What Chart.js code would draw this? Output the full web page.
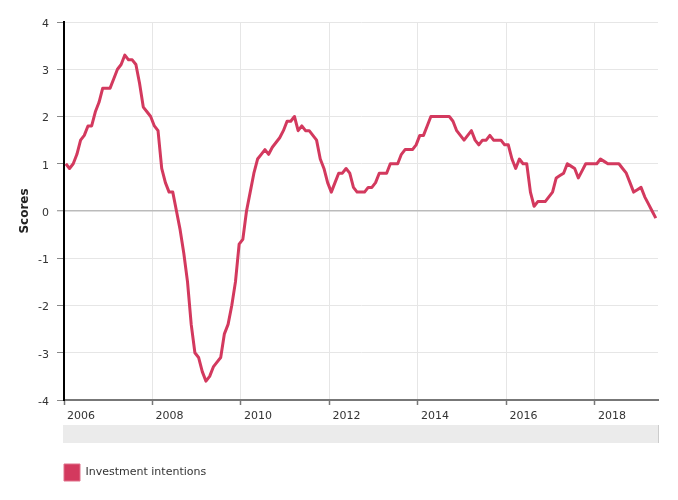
<!DOCTYPE html>
<html>
<head>
<meta charset="utf-8">
<script src="https://cdn.jsdelivr.net/npm/chart.js@4.4.1/dist/chart.umd.min.js"></script>
<style>
  html, body { margin: 0; padding: 0; background: #fff; }
  #wrap { width: 678px; height: 500px; }
</style>
</head>
<body>
<div id="wrap"><canvas id="chart" width="678" height="500"></canvas></div>
<script>
// Monthly scores, Jan 2006 .. May 2019
const startYear = 2006;
const seriesLabel = "Investment intentions";
const scores = [
  1.0, 0.9, 1.0, 1.2, 1.5, 1.6, 1.8, 1.8, 2.1, 2.3,
  2.6, 2.6, 2.6, 2.8, 3.0, 3.1, 3.3, 3.2, 3.2, 3.1,
  2.7, 2.2, 2.1, 2.0, 1.8, 1.7, 0.9, 0.6, 0.4, 0.4,
  0.0, -0.4, -0.9, -1.5, -2.4, -3.0, -3.1, -3.4, -3.6, -3.5,
  -3.3, -3.2, -3.1, -2.6, -2.4, -2.0, -1.5, -0.7, -0.6, 0.0,
  0.4, 0.8, 1.1, 1.2, 1.3, 1.2, 1.35, 1.45, 1.55, 1.7,
  1.9, 1.9, 2.0, 1.7, 1.8, 1.7, 1.7, 1.6, 1.5, 1.1,
  0.9, 0.6, 0.4, 0.6, 0.8, 0.8, 0.9, 0.8, 0.5, 0.4,
  0.4, 0.4, 0.5, 0.5, 0.6, 0.8, 0.8, 0.8, 1.0, 1.0,
  1.0, 1.2, 1.3, 1.3, 1.3, 1.4, 1.6, 1.6, 1.8, 2.0,
  2.0, 2.0, 2.0, 2.0, 2.0, 1.9, 1.7, 1.6, 1.5, 1.6,
  1.7, 1.5, 1.4, 1.5, 1.5, 1.6, 1.5, 1.5, 1.5, 1.4,
  1.4, 1.1, 0.9, 1.1, 1.0, 1.0, 0.4, 0.1, 0.2, 0.2,
  0.2, 0.3, 0.4, 0.7, 0.75, 0.8, 1.0, 0.95, 0.9, 0.7,
  0.85, 1.0, 1.0, 1.0, 1.0, 1.1, 1.05, 1.0, 1.0, 1.0,
  1.0, 0.9, 0.8, 0.6, 0.4, 0.45, 0.5, 0.3, 0.15, 0.0, -0.15
];
const yearTicks = [2006, 2008, 2010, 2012, 2014, 2016, 2018];
const scoreTicks = [-4, -3, -2, -1, 0, 1, 2, 3, 4];

const lineColor = "#d3395e";

// each month sits in the middle of its month on the year axis
const points = scores.map((v, i) => ({ x: startYear + (i + 0.5) / 12, y: v }));

Chart.defaults.font.family = "'DejaVu Sans', Verdana, sans-serif";
Chart.defaults.font.size = 11;
Chart.defaults.color = "#333";

// grey navigator strip under the axis, and legend placement
const extras = {
  id: "extras",
  afterLayout(chart) {
    const lg = chart.legend;
    const w = lg.width, h = lg.height;
    lg.left = chart.chartArea.left - 10;
    lg.right = lg.left + w;
    lg.top = 454;
    lg.bottom = lg.top + h;
  },
  beforeDraw(chart) {
    const { ctx, chartArea } = chart;
    ctx.save();
    ctx.fillStyle = "#ebebeb";
    ctx.fillRect(chartArea.left - 1, 425, chartArea.right - chartArea.left + 1, 18);
    ctx.fillStyle = "#cccccc";
    ctx.fillRect(chartArea.right, 425, 1, 18);
    ctx.restore();
  }
};

new Chart(document.getElementById("chart"), {
  type: "line",
  data: {
    datasets: [{
      label: seriesLabel,
      data: points,
      borderColor: lineColor,
      backgroundColor: lineColor,
      borderWidth: 3,
      pointRadius: 0,
      tension: 0,
      borderJoinStyle: "round",
      fill: false
    }]
  },
  options: {
    responsive: false,
    animation: false,
    layout: { padding: { top: 22, right: 20, bottom: 38, left: 0 } },
    scales: {
      x: {
        type: "linear",
        min: startYear,
        max: 2019.425,
        afterBuildTicks: s => { s.ticks = yearTicks.map(v => ({ value: v })); },
        afterFit: s => { s.height = 25; },
        ticks: {
          align: "start",
          labelOffset: 3,
          padding: 5,
          maxRotation: 0,
          autoSkip: false,
          color: "#333",
          callback: v => String(v)
        },
        grid: {
          color: "#e6e6e6",
          lineWidth: 1,
          tickLength: 5,
          tickColor: "#777",
          tickWidth: 1.5
        },
        border: { color: "#777", width: 2 }
      },
      y: {
        min: -4,
        max: 4,
        afterBuildTicks: s => { s.ticks = scoreTicks.map(v => ({ value: v })); },
        afterFit: s => { s.width = 64; },
        ticks: {
          padding: 8,
          labelOffset: 2,
          color: "#333",
          callback: v => String(v)
        },
        grid: {
          color: c => (c.tick && c.tick.value === 0 ? "#bbbbbb" : "#e6e6e6"),
          lineWidth: c => (c.tick && c.tick.value === 0 ? 1.5 : 1),
          tickLength: 7,
          tickColor: "#888",
          tickWidth: 1
        },
        border: { color: "#000", width: 2 },
        title: {
          display: true,
          text: "Scores",
          color: "#222",
          font: { size: 12, weight: "bold" },
          padding: { top: 18, bottom: 0 }
        }
      }
    },
    plugins: {
      legend: {
        display: true,
        position: "bottom",
        align: "start",
        labels: {
          boxWidth: 16,
          boxHeight: 17,
          padding: 10,
          color: "#333",
          font: { size: 11 },
          generateLabels: chart => chart.data.datasets.map((d, i) => ({
            text: d.label,
            fillStyle: d.backgroundColor,
            strokeStyle: "#e0708a",
            fontColor: "#333",
            lineWidth: 1,
            hidden: false,
            datasetIndex: i
          }))
        }
      },
      tooltip: { enabled: false }
    }
  },
  plugins: [extras]
});
</script>
</body>
</html>
